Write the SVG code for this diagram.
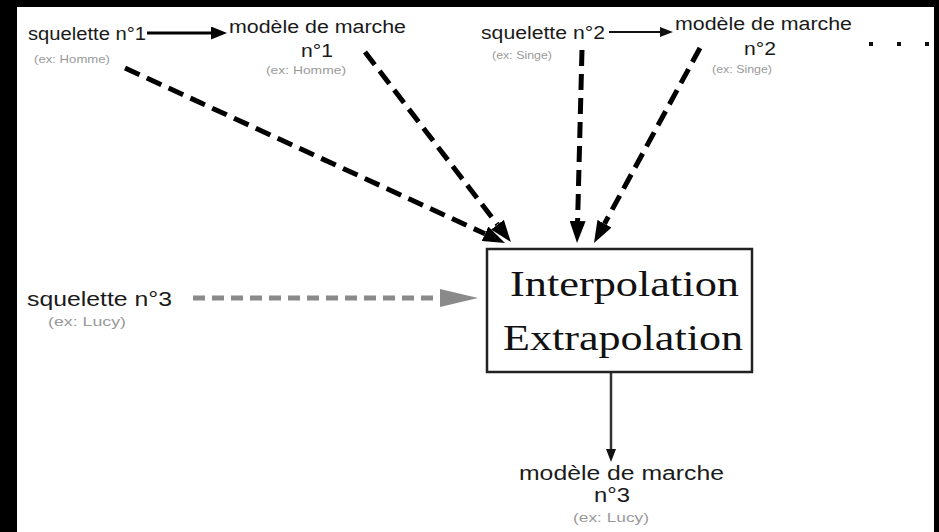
<svg xmlns="http://www.w3.org/2000/svg" width="939" height="532" viewBox="0 0 939 532">
  <style>
    .lbl { font-family: "Liberation Sans", Arial, sans-serif; fill: #1a1a1a; }
    .sub { font-family: "Liberation Sans", Arial, sans-serif; fill: #9a9a9a; }
    .big { font-family: "Liberation Serif", "Times New Roman", serif; fill: #111; }
    .dash { fill: none; stroke: #000; stroke-width: 5; stroke-dasharray: 16 8; }
    .gray { fill: none; stroke: #8a8a8a; stroke-width: 5; stroke-dasharray: 12 7; }
  </style>
  <defs>
    <marker id="headBlack" markerUnits="userSpaceOnUse" viewBox="0 0 22 16" refX="0" refY="8" markerWidth="22" markerHeight="16" orient="auto">
      <path d="M0,0 L22,8 L0,16 Z" fill="#000"/>
    </marker>
    <marker id="headGray" markerUnits="userSpaceOnUse" viewBox="0 0 38 18" refX="0" refY="9" markerWidth="38" markerHeight="18" orient="auto">
      <path d="M0,0 L38,9 L0,18 Z" fill="#8a8a8a"/>
    </marker>
    <marker id="headSmall" markerUnits="userSpaceOnUse" viewBox="0 0 16 13" refX="0" refY="6.5" markerWidth="16" markerHeight="13" orient="auto">
      <path d="M0,0 L16,6.5 L0,13 Z" fill="#000"/>
    </marker>
    <marker id="headTiny" markerUnits="userSpaceOnUse" viewBox="0 0 13 10" refX="0" refY="5" markerWidth="13" markerHeight="10" orient="auto">
      <path d="M0,0 L13,5 L0,10 Z" fill="#111"/>
    </marker>
  </defs>

  <!-- frame -->
  <rect x="0" y="0" width="939" height="532" fill="#000"/>
  <rect x="17" y="7" width="917" height="525" fill="#fff"/>

  <!-- connectors -->
  <g id="connectors">
    <line x1="147" y1="33" x2="211" y2="33" stroke="#000" stroke-width="3" marker-end="url(#headSmall)"/>
    <line x1="609" y1="32" x2="660" y2="32" stroke="#111" stroke-width="2" marker-end="url(#headTiny)"/>
    <line class="dash" x1="125" y1="68" x2="485.0" y2="233.8" marker-end="url(#headBlack)"/>
    <line class="dash" x1="365" y1="52" x2="497.5" y2="224.6" marker-end="url(#headBlack)"/>
    <line class="dash" x1="582" y1="50" x2="577.6" y2="221" marker-end="url(#headBlack)"/>
    <line class="dash" x1="700" y1="48" x2="604.5" y2="223.7" marker-end="url(#headBlack)"/>
    <line class="gray" x1="193" y1="298" x2="440" y2="298" marker-end="url(#headGray)"/>
    <line x1="611" y1="373" x2="611" y2="449" stroke="#333" stroke-width="2.5" marker-end="url(#headTiny)"/>
  </g>

  <!-- skeleton 1 -->
  <g id="squelette1">
    <text class="lbl" x="28" y="40" font-size="18" textLength="118" lengthAdjust="spacingAndGlyphs">squelette n°1</text>
    <text class="sub" x="72" y="63" font-size="11" text-anchor="middle" textLength="76" lengthAdjust="spacingAndGlyphs">(ex: Homme)</text>
  </g>

  <!-- walk model 1 -->
  <g id="modele1">
    <text class="lbl" x="229" y="33" font-size="18" textLength="177" lengthAdjust="spacingAndGlyphs">modèle de marche</text>
    <text class="lbl" x="317" y="57" font-size="18" text-anchor="middle" textLength="32" lengthAdjust="spacingAndGlyphs">n°1</text>
    <text class="sub" x="306" y="74" font-size="11" text-anchor="middle" textLength="80" lengthAdjust="spacingAndGlyphs">(ex: Homme)</text>
  </g>

  <!-- skeleton 2 -->
  <g id="squelette2">
    <text class="lbl" x="481" y="39" font-size="18" textLength="124" lengthAdjust="spacingAndGlyphs">squelette n°2</text>
    <text class="sub" x="522" y="59" font-size="11" text-anchor="middle" textLength="60" lengthAdjust="spacingAndGlyphs">(ex: Singe)</text>
  </g>

  <!-- walk model 2 -->
  <g id="modele2">
    <text class="lbl" x="675" y="30" font-size="18" textLength="177" lengthAdjust="spacingAndGlyphs">modèle de marche</text>
    <text class="lbl" x="760" y="55" font-size="18" text-anchor="middle" textLength="32" lengthAdjust="spacingAndGlyphs">n°2</text>
    <text class="sub" x="742" y="73" font-size="11" text-anchor="middle" textLength="60" lengthAdjust="spacingAndGlyphs">(ex: Singe)</text>
  </g>

  <!-- continuation dots -->
  <g id="suite" fill="#111">
    <rect x="869" y="42" width="4" height="4"/>
    <rect x="897" y="42" width="4" height="4"/>
    <rect x="925" y="42" width="4" height="4"/>
  </g>

  <!-- skeleton 3 -->
  <g id="squelette3">
    <text class="lbl" x="27" y="306" font-size="20" textLength="145" lengthAdjust="spacingAndGlyphs">squelette n°3</text>
    <text class="sub" x="87" y="326" font-size="13" text-anchor="middle" textLength="78" lengthAdjust="spacingAndGlyphs">(ex: Lucy)</text>
  </g>

  <!-- central process -->
  <g id="interpolation">
    <rect x="487" y="249" width="265" height="123" fill="#fff" stroke="#222" stroke-width="2.5"/>
    <text class="big" x="510" y="296" font-size="36" textLength="229" lengthAdjust="spacingAndGlyphs">Interpolation</text>
    <text class="big" x="503" y="350" font-size="36" textLength="240" lengthAdjust="spacingAndGlyphs">Extrapolation</text>
  </g>

  <!-- walk model 3 -->
  <g id="modele3">
    <text class="lbl" x="519" y="480" font-size="20" textLength="205" lengthAdjust="spacingAndGlyphs">modèle de marche</text>
    <text class="lbl" x="612" y="502" font-size="20" text-anchor="middle" textLength="36" lengthAdjust="spacingAndGlyphs">n°3</text>
    <text class="sub" x="611" y="522" font-size="13" text-anchor="middle" textLength="76" lengthAdjust="spacingAndGlyphs">(ex: Lucy)</text>
  </g>
</svg>
